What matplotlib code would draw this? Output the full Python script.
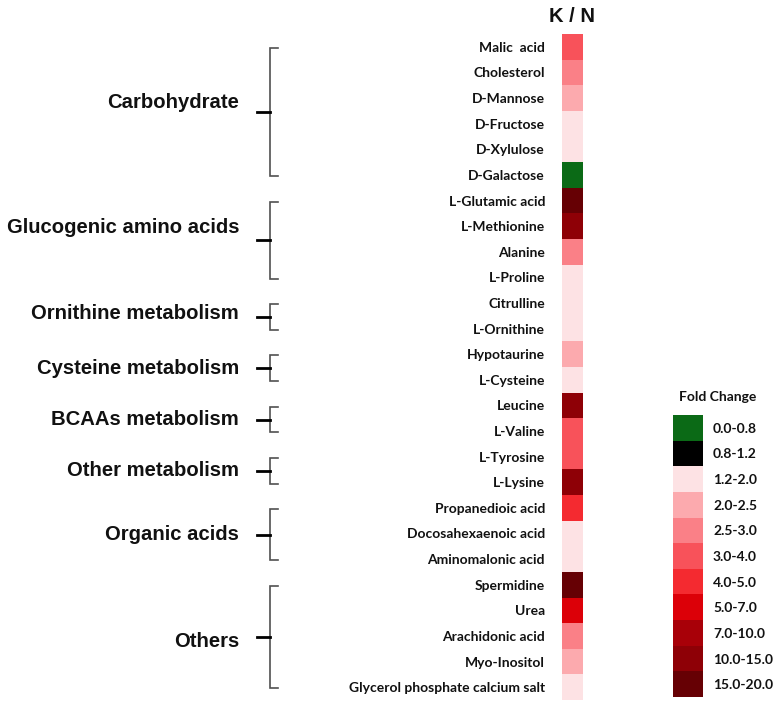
import matplotlib
matplotlib.use("Agg")
import matplotlib.pyplot as plt
import numpy as np
from matplotlib.colors import ListedColormap, BoundaryNorm
from matplotlib import transforms

# ---------------- data ----------------
metabolites = [
    "Malic  acid", "Cholesterol", "D-Mannose", "D-Fructose", "D-Xylulose",
    "D-Galactose", "L-Glutamic acid", "L-Methionine", "Alanine", "L-Proline",
    "Citrulline", "L-Ornithine", "Hypotaurine", "L-Cysteine", "Leucine",
    "L-Valine", "L-Tyrosine", "L-Lysine", "Propanedioic acid",
    "Docosahexaenoic acid", "Aminomalonic acid", "Spermidine", "Urea",
    "Arachidonic acid", "Myo-Inositol", "Glycerol phosphate calcium salt",
]
fold_change_bin = [
    "3.0-4.0", "2.5-3.0", "2.0-2.5", "1.2-2.0", "1.2-2.0",
    "0.0-0.8", "15.0-20.0", "10.0-15.0", "2.5-3.0", "1.2-2.0",
    "1.2-2.0", "1.2-2.0", "2.0-2.5", "1.2-2.0", "10.0-15.0",
    "3.0-4.0", "3.0-4.0", "10.0-15.0", "4.0-5.0",
    "1.2-2.0", "1.2-2.0", "15.0-20.0", "5.0-7.0",
    "2.5-3.0", "2.0-2.5", "1.2-2.0",
]
bin_labels = ["0.0-0.8", "0.8-1.2", "1.2-2.0", "2.0-2.5", "2.5-3.0", "3.0-4.0",
              "4.0-5.0", "5.0-7.0", "7.0-10.0", "10.0-15.0", "15.0-20.0"]
bin_colors = ["#0b6a16", "#000000", "#fde2e4", "#fcaaae", "#fa8087", "#f8525a",
              "#f42a30", "#dc0008", "#a80008", "#8e0006", "#660004"]
groups = [
    ("Carbohydrate", 0, 5),
    ("Glucogenic amino acids", 6, 9),
    ("Ornithine metabolism", 10, 11),
    ("Cysteine metabolism", 12, 13),
    ("BCAAs metabolism", 14, 15),
    ("Other metabolism", 16, 17),
    ("Organic acids", 18, 20),
    ("Others", 21, 25),
]
column_label = "K / N"
legend_title = "Fold Change"

# ---------------- figure ----------------
W, H = 780, 701
fig = plt.figure(figsize=(W / 100, H / 100), dpi=100)
fig.patch.set_facecolor("white")

def fx(px):
    return px / W

def fy(py):
    return 1 - py / H

cmap = ListedColormap(bin_colors)
norm = BoundaryNorm(np.arange(len(bin_colors) + 1) - 0.5, cmap.N)

row_font = dict(family=["Lato", "DejaVu Sans"], weight="bold", size=10,
                color="#111111")
grp_font = dict(family=["Liberation Sans", "DejaVu Sans"], weight="bold",
                size=14.6, color="#111111")

# heatmap
n = len(metabolites)
ax = fig.add_axes([fx(562), fy(700), fx(583) - fx(562), fy(34) - fy(700)])
vals = np.array([bin_labels.index(b) for b in fold_change_bin]).reshape(-1, 1)
ax.pcolormesh(np.arange(2), np.arange(n + 1), vals, cmap=cmap, norm=norm,
              edgecolors="none")
ax.set_ylim(n, 0)
ax.set_xlim(0, 1)
ax.set_xticks([])
ax.set_yticks(np.arange(n) + 0.5)
ax.set_yticklabels(metabolites, **row_font)
ax.tick_params(axis="y", length=0, pad=12.2)
for s in ax.spines.values():
    s.set_visible(False)

fig.text(fx(572), fy(16), column_label, ha="center", va="center",
         family=["Liberation Sans", "DejaVu Sans"], weight="bold", size=14.5,
         color="#111111")

# brackets and group labels
tr = transforms.blended_transform_factory(fig.transFigure, ax.transData)
label_nudge = {"Carbohydrate": -0.38, "Glucogenic amino acids": -0.5,
               "Ornithine metabolism": -0.15, "Others": 0.15}
xv, xh, xt, xl = fx(270), fx(278), fx(257), fx(239)
for name, a, b in groups:
    y0, y1 = a + 0.55, b + 0.55
    ym = (y0 + y1) / 2
    ax.plot([xh, xv, xv, xh], [y0, y0, y1, y1], transform=tr, color="#505050",
            lw=1.2, clip_on=False, solid_joinstyle="miter")
    ax.plot([xt, xv], [ym, ym], transform=tr, color="black", lw=2.0,
            clip_on=False)
    ax.text(xl, ym + label_nudge.get(name, 0), name, transform=tr,
            ha="right", va="center", **grp_font)

# legend
nb = len(bin_labels)
lax = fig.add_axes([fx(673), fy(697), fx(703) - fx(673), fy(415) - fy(697)])
lax.pcolormesh(np.arange(2), np.arange(nb + 1), np.arange(nb).reshape(-1, 1),
               cmap=cmap, norm=norm, edgecolors="none")
lax.set_ylim(nb, 0)
lax.set_xlim(0, 1)
lax.set_xticks([])
lax.yaxis.tick_right()
lax.set_yticks(np.arange(nb) + 0.5)
lax.set_yticklabels(bin_labels, **row_font)
lax.tick_params(axis="y", length=0, pad=7.2)
for s in lax.spines.values():
    s.set_visible(False)
fig.text(fx(718), fy(397), legend_title, ha="center", va="center", **row_font)

fig.savefig("out.png", dpi=100, facecolor="white")
